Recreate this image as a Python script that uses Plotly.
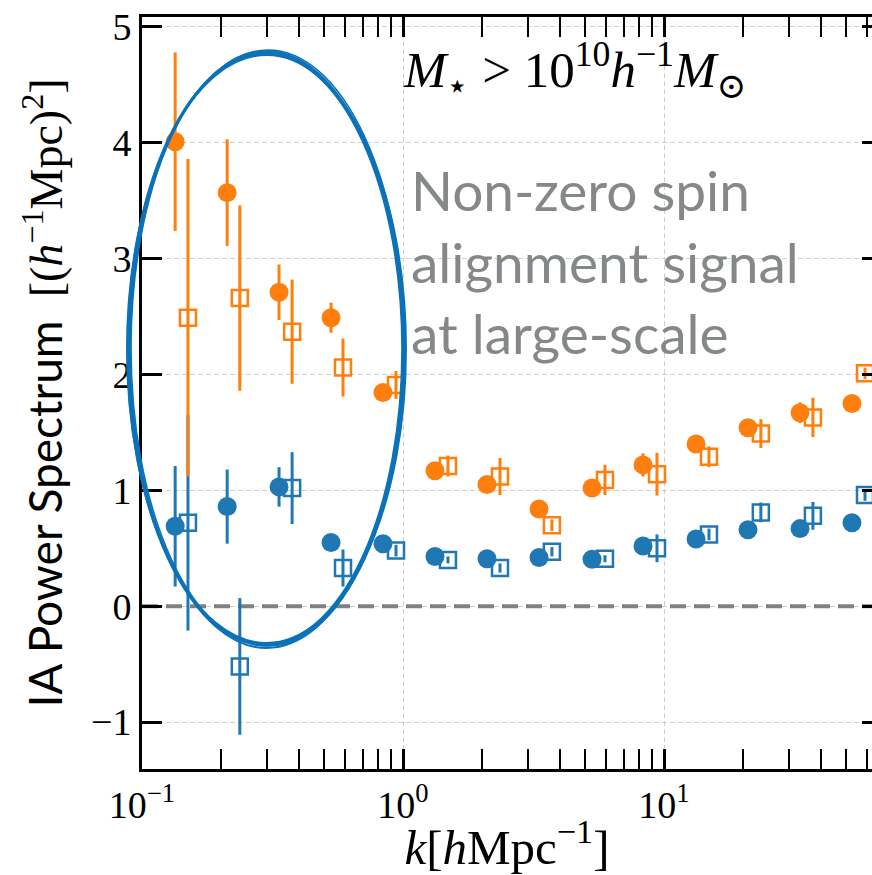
import plotly.graph_objects as go

# ---- data ----
k_circ = [0.134, 0.212, 0.335, 0.530, 0.838, 1.326, 2.098, 3.32, 5.30, 8.31, 13.27, 20.98, 33.2, 52.5]
k_sq = [0.150, 0.237, 0.376, 0.589, 0.940, 1.487, 2.353, 3.72, 5.94, 9.40, 14.87, 23.5, 37.2, 58.9]

orange_circ = [4.01, 3.57, 2.71, 2.49, 1.845, 1.17, 1.05, 0.84, 1.02, 1.22, 1.40, 1.54, 1.67, 1.75]
orange_circ_err = [0.77, 0.46, 0.24, 0.13, 0.05, 0.04, 0.05, 0.04, 0.04, 0.10, 0.04, 0.04, 0.09, 0.03]
orange_sq = [2.49, 2.66, 2.37, 2.06, 1.91, 1.21, 1.12, 0.70, 1.09, 1.14, 1.29, 1.49, 1.63, 2.01]
orange_sq_err = [1.37, 0.80, 0.45, 0.25, 0.12, 0.09, 0.16, 0.05, 0.13, 0.185, 0.09, 0.125, 0.17, 0.05]

blue_circ = [0.69, 0.86, 1.03, 0.55, 0.54, 0.43, 0.41, 0.42, 0.405, 0.52, 0.58, 0.66, 0.67, 0.72]
blue_circ_err = [0.52, 0.32, 0.17, 0.03, 0.02, 0.02, 0.02, 0.02, 0.02, 0.02, 0.02, 0.02, 0.02, 0.02]
blue_sq = [0.72, -0.52, 1.02, 0.33, 0.48, 0.40, 0.33, 0.47, 0.41, 0.50, 0.62, 0.81, 0.78, 0.96]
blue_sq_err = [0.93, 0.59, 0.31, 0.16, 0.05, 0.03, 0.04, 0.04, 0.03, 0.12, 0.05, 0.085, 0.12, 0.05]

zero_level = [0, 0]
zero_k = [0.1, 70]

x_tickvals = [0.1, 1, 10]
x_ticktext = ["10<sup>−1</sup>", "10<sup>0</sup>", "10<sup>1</sup>"]
x_minor = [0.2, 0.3, 0.4, 0.5, 0.6, 0.7, 0.8, 0.9, 2, 3, 4, 5, 6, 7, 8, 9, 20, 30, 40, 50, 60]
y_tickvals = [-1, 0, 1, 2, 3, 4, 5]

BLUE = "#1f77b4"
ORANGE = "#ff7f0e"
SERIF = "Liberation Serif, DejaVu Serif, serif"
SANS = "Lato, Open Sans, sans-serif"

fig = go.Figure()

# zero reference line
fig.add_trace(go.Scatter(x=zero_k, y=zero_level, mode="lines",
                         line=dict(color="#808080", width=4, dash="16px,8px"),
                         showlegend=False, hoverinfo="skip"))

def add(x, y, e, color, symbol, size, lw):
    fig.add_trace(go.Scatter(
        x=x, y=y, mode="markers",
        error_y=dict(type="data", array=e, visible=True, color=color, thickness=3, width=0),
        marker=dict(symbol=symbol, size=size, color=color, line=dict(width=lw, color=color)),
        showlegend=False, hoverinfo="skip"))

add(k_circ, blue_circ, blue_circ_err, BLUE, "circle", 19, 0)
add(k_sq, blue_sq, blue_sq_err, BLUE, "square-open", 16, 2.5)
add(k_circ, orange_circ, orange_circ_err, ORANGE, "circle", 19, 0)
add(k_sq, orange_sq, orange_sq_err, ORANGE, "square-open", 16, 2.5)

# dummy trace for right-side tick axis
fig.add_trace(go.Scatter(x=[None], y=[None], yaxis="y2", showlegend=False, hoverinfo="skip"))

W, H = 872, 875
L, R, T, B = 142, 0, 17, 106
pw, ph = W - L - R, H - T - B

def px2paper(px, py):
    return (px - L) / pw, (H - B - py) / ph

shapes = []
# hand-drawn style ellipse (several strokes)
for dx0, dy0, dx1, dy1, w in [(0, 0, 0, 0, 3.0), (2, 3, -1, -2, 2.0), (-1, -2, 2, 2, 2.0),
                              (3, 1, 1, -3, 1.6), (1, -1, -2, 1, 1.6)]:
    x0, y0 = px2paper(128 + dx0, 645 + dy0)
    x1, y1 = px2paper(404 + dx1, 53 + dy1)
    shapes.append(dict(type="circle", xref="paper", yref="paper", x0=x0, x1=x1, y0=y0, y1=y1,
                       line=dict(color="#0b72b8", width=w), layer="above"))

annotations = [
    dict(xref="paper", yref="paper", x=px2paper(401, 0)[0], y=px2paper(0, 70)[1],
         xanchor="left", yanchor="middle", showarrow=False,
         text="<i>M</i><sub>⋆</sub> > 10<sup>10</sup><i>h</i><sup>−1</sup><i>M</i><sub>⊙</sub>",
         font=dict(family=SERIF, size=51, color="black")),
    dict(xref="paper", yref="paper", x=px2paper(409, 0)[0], y=px2paper(0, 261)[1],
         xanchor="left", yanchor="middle", showarrow=False, align="left",
         text="Non-zero spin<br>alignment signal<br>at large-scale",
         font=dict(family=SANS, size=55, color="#858888")),
]

fig.update_layout(
    width=W, height=H, margin=dict(l=L, r=R, t=T, b=B, pad=0),
    paper_bgcolor="white", plot_bgcolor="white",
    shapes=shapes, annotations=annotations,
    xaxis=dict(type="log", range=[-1, (W - L) / 261 - 1],
               tickmode="array", tickvals=x_tickvals, ticktext=x_ticktext,
               ticks="inside", ticklen=20, tickwidth=3, tickcolor="black",
               showline=True, linewidth=3, linecolor="black", mirror="allticks",
               showgrid=True, gridcolor="#cfcfcf", gridwidth=1.2, griddash="5px,3px",
               zeroline=False,
               minor=dict(tickmode="array", tickvals=x_minor, ticks="inside", ticklen=10,
                          tickwidth=2, tickcolor="black", showgrid=False),
               tickfont=dict(family=SERIF, size=38, color="black"),
               title=dict(text="<i>k</i>[<i>h</i>Mpc<sup>−1</sup>]",
                          font=dict(family=SERIF, size=49, color="black"), standoff=6)),
    yaxis=dict(range=[-1.405, 5.086], tickmode="array", tickvals=y_tickvals,
               ticks="inside", ticklen=20, tickwidth=3, tickcolor="black",
               showline=True, linewidth=3, linecolor="black", mirror=False,
               showgrid=True, gridcolor="#cfcfcf", gridwidth=1.2, griddash="5px,3px",
               zeroline=False,
               tickfont=dict(family=SERIF, size=38, color="black"),
               title=dict(text='<span style="font-family:Lato">IA Power Spectrum</span>  [(<i>h</i><sup>−1</sup>Mpc)<sup>2</sup>]',
                          font=dict(family=SERIF, size=46, color="black"), standoff=14)),
    yaxis2=dict(range=[-1.405, 5.086], overlaying="y", side="right", anchor="free", position=1,
                tickmode="array", tickvals=y_tickvals, ticks="inside", ticklen=10, tickwidth=3,
                tickcolor="black", showticklabels=False, showgrid=False, showline=False,
                zeroline=False),
)

fig.write_html("out.html")
